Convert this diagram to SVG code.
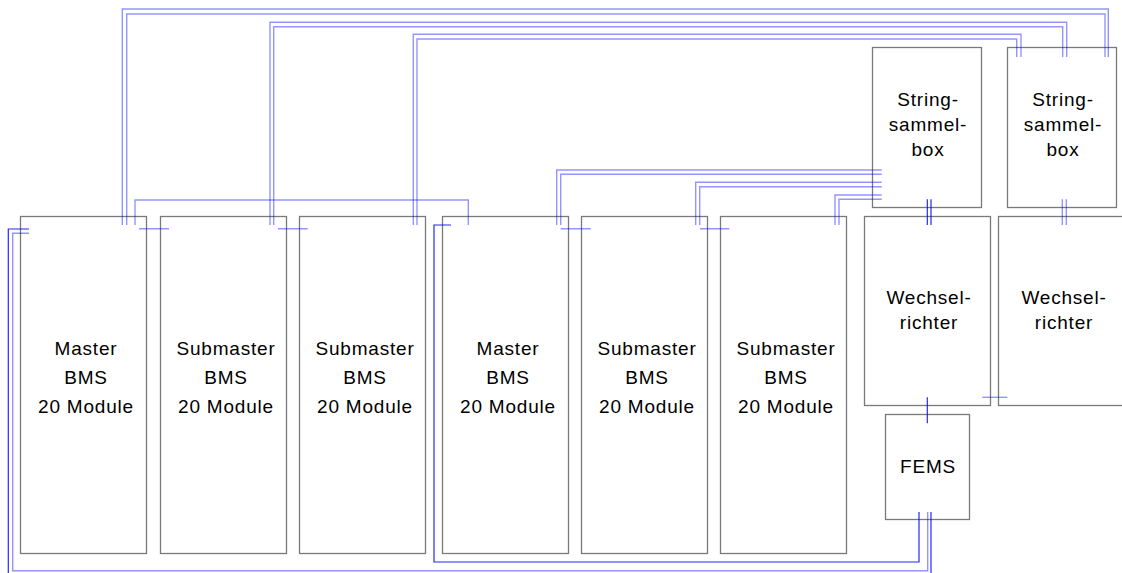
<svg xmlns="http://www.w3.org/2000/svg" width="1122" height="573" viewBox="0 0 1122 573">
<style>
.box{fill:#fff;stroke:#7a7a7a;stroke-width:1.3}
.t{font-family:"Liberation Sans",Arial,sans-serif;font-size:19px;letter-spacing:0.8px;fill:#000;text-anchor:middle}
.lt{fill:none;stroke:#0000ff;stroke-width:1.4;opacity:.42}
.dk{fill:none;stroke:#0000ff;stroke-width:1.2;opacity:.85}
</style>
<rect width="1122" height="573" fill="#fff"/>
<g id="bms1"><rect class="box" x="20.5" y="216.5" width="126" height="337"/><text class="t" x="86" y="355">Master</text><text class="t" x="86" y="384">BMS</text><text class="t" x="86" y="413">20 Module</text></g>
<g id="sub1"><rect class="box" x="160.5" y="216.5" width="126" height="337"/><text class="t" x="226" y="355">Submaster</text><text class="t" x="226" y="384">BMS</text><text class="t" x="226" y="413">20 Module</text></g>
<g id="sub2"><rect class="box" x="299.5" y="216.5" width="126" height="337"/><text class="t" x="365" y="355">Submaster</text><text class="t" x="365" y="384">BMS</text><text class="t" x="365" y="413">20 Module</text></g>
<g id="bms2"><rect class="box" x="442.5" y="216.5" width="126" height="337"/><text class="t" x="508" y="355">Master</text><text class="t" x="508" y="384">BMS</text><text class="t" x="508" y="413">20 Module</text></g>
<g id="sub3"><rect class="box" x="581.5" y="216.5" width="126" height="337"/><text class="t" x="647" y="355">Submaster</text><text class="t" x="647" y="384">BMS</text><text class="t" x="647" y="413">20 Module</text></g>
<g id="sub4"><rect class="box" x="720.5" y="216.5" width="126" height="337"/><text class="t" x="786" y="355">Submaster</text><text class="t" x="786" y="384">BMS</text><text class="t" x="786" y="413">20 Module</text></g>
<g id="sbox1"><rect class="box" x="872.5" y="47.5" width="109" height="160"/><text class="t" x="928" y="106">String-</text><text class="t" x="928" y="131">sammel-</text><text class="t" x="928" y="156">box</text></g>
<g id="sbox2"><rect class="box" x="1007.5" y="47.5" width="109" height="160"/><text class="t" x="1063" y="106">String-</text><text class="t" x="1063" y="131">sammel-</text><text class="t" x="1063" y="156">box</text></g>
<g id="wr1"><rect class="box" x="864.5" y="216.5" width="126" height="189"/><text class="t" x="929" y="304">Wechsel-</text><text class="t" x="929" y="329">richter</text></g>
<g id="wr2"><rect class="box" x="998.5" y="216.5" width="126" height="189"/><text class="t" x="1064" y="304">Wechsel-</text><text class="t" x="1064" y="329">richter</text></g>
<g id="fems"><rect class="box" x="885.5" y="414.5" width="84" height="105"/><text class="t" x="928" y="473">FEMS</text></g>
<g id="connectors">
<path class="lt" d="M122.3,225V9H1108.3V57"/>
<path class="lt" d="M126.7,225V14H1105V57"/>
<path class="lt" d="M270,225V22.3H1066.7V57"/>
<path class="lt" d="M273.7,225V26.7H1062.7V57"/>
<path class="lt" d="M413.3,225V34.3H1021V57"/>
<path class="lt" d="M417,225V39H1016.7V57"/>
<path class="lt" d="M556.7,225V170H881.7"/>
<path class="lt" d="M560.7,225V174.3H881.7"/>
<path class="lt" d="M695.7,225V182.3H881.7"/>
<path class="lt" d="M699.7,225V186.7H881.7"/>
<path class="lt" d="M835,225V195H881.7"/>
<path class="lt" d="M839,225V199.3H881.7"/>
<path class="lt" d="M135,225V200H468.3V225"/>
<path class="lt" d="M139,228.7H169M278,228.7H307.7M560.7,228.7H590.7M700,228.7H729.3"/>
<path class="lt" d="M29,233.3H12.7V570.7H927.7V512"/>
<path class="dk" d="M29,229H8.3V580"/>
<path class="dk" d="M931,512V580"/>
<path class="dk" d="M451,225H434V562H919V512"/>
<path class="dk" d="M927.3,199.3V225M931,199.3V225"/>
<path class="lt" d="M1062.3,199.3V225M1066.3,199.3V225"/>
<path class="dk" d="M927.3,397.3V423.3"/>
<path class="lt" d="M982.3,397.3H1007.3"/>
</g>
</svg>
